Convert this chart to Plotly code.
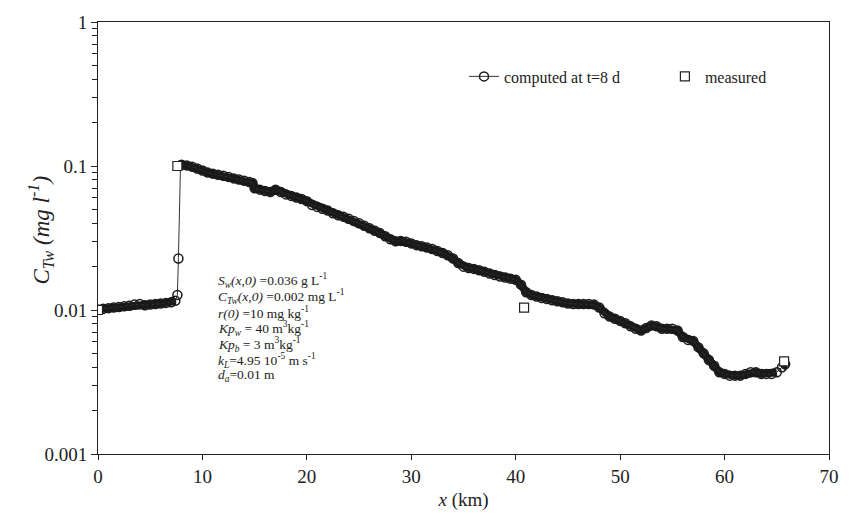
import plotly.graph_objects as go

# computed concentration profile at t = 8 d
x_comp = [0.0, 0.5, 1.0, 1.5, 2.0, 2.5, 3.0, 3.5, 4.0, 4.5, 5.0, 5.5, 6.0, 6.5, 7.0, 7.4,
          7.6, 7.7, 7.9,
          8.0, 8.5, 9.0, 9.5, 10.0, 10.5, 11.0, 11.5, 12.0, 12.5, 13.0, 13.5, 14.0, 14.5, 14.8,
          15.0, 15.5, 16.0, 16.5, 17.0, 17.5, 18.0, 18.5, 19.0, 19.5, 20.0, 20.5, 21.0, 21.5,
          22.0, 22.5, 23.0, 23.5, 24.0, 24.5, 25.0, 25.5, 26.0, 26.5, 27.0, 27.5, 28.0, 28.5,
          29.0, 29.5, 30.0, 30.5, 31.0, 31.5, 32.0, 32.5, 33.0, 33.5, 34.0, 34.5, 35.0, 35.5,
          36.0, 36.5, 37.0, 37.5, 38.0, 38.5, 39.0, 39.5, 40.0, 40.5, 41.0, 41.5, 42.0, 42.5,
          43.0, 43.5, 44.0, 44.5, 45.0, 45.5, 46.0, 46.5, 47.0, 47.5, 48.0, 48.5, 49.0, 49.5,
          50.0, 50.5, 51.0, 51.5, 52.0, 52.5, 53.0, 53.5, 54.0, 54.5, 55.0, 55.5, 56.0, 56.5,
          57.0, 57.5, 58.0, 58.5, 59.0, 59.5, 60.0, 60.5, 61.0, 61.5, 62.0, 62.5, 63.0, 63.5,
          64.0, 64.5, 65.0, 65.5, 65.8]
c_comp = [0.0101, 0.0102, 0.0103, 0.0104, 0.0105, 0.0106, 0.0107, 0.0109, 0.0110, 0.0108,
          0.0109, 0.0110, 0.0111, 0.0112, 0.0113, 0.0116,
          0.0127, 0.0228, 0.101,
          0.102, 0.101, 0.099, 0.096, 0.093, 0.090, 0.0885, 0.087, 0.0855, 0.084, 0.082, 0.0805,
          0.079, 0.0775, 0.076,
          0.070, 0.0685, 0.067, 0.066, 0.0685, 0.066, 0.0635, 0.062, 0.0605, 0.059, 0.057, 0.0535,
          0.052, 0.0505, 0.0490, 0.047, 0.0455, 0.0445, 0.043, 0.0415, 0.040, 0.0385, 0.037,
          0.0355, 0.0342, 0.0325, 0.031, 0.030, 0.0302, 0.0298, 0.029, 0.0282, 0.0277, 0.0272,
          0.0265, 0.0257, 0.0249, 0.0240, 0.0228, 0.0212, 0.0200, 0.0196, 0.0193, 0.0189,
          0.0184, 0.0179, 0.0175, 0.0171, 0.0168, 0.0165, 0.0162, 0.0150, 0.0133, 0.0127,
          0.0124, 0.0121, 0.0119, 0.0117, 0.0115, 0.0113, 0.0111, 0.0110, 0.0110, 0.0110,
          0.0110, 0.0109, 0.0104, 0.0095, 0.0090, 0.0087, 0.0084, 0.0081, 0.0077, 0.0074,
          0.0072, 0.0075, 0.0078, 0.0077, 0.0074, 0.0074, 0.0074, 0.0072, 0.0065, 0.0062,
          0.0061, 0.0055, 0.0050, 0.0045, 0.0041, 0.0037, 0.0036, 0.0035, 0.0035, 0.0035,
          0.0036, 0.0037, 0.0037, 0.0036, 0.0036, 0.0036, 0.0037, 0.0040, 0.0042]

# measured values
x_meas = [0.0, 7.6, 40.8, 65.7]
c_meas = [0.0100, 0.100, 0.0104, 0.0044]

y_tickvals = [0.001, 0.01, 0.1, 1]
y_ticktext = ["0.001", "0.01", "0.1", "1"]
x_tickvals = [0, 10, 20, 30, 40, 50, 60, 70]

param_lines = [
    "<i>S</i><sub><i>w</i></sub><i>(x,0)</i> =0.036 g L<sup>-1</sup>",
    "<i>C</i><sub><i>Tw</i></sub><i>(x,0)</i> =0.002 mg L<sup>-1</sup>",
    "<i>r(0)</i> =10 mg kg<sup>-1</sup>",
    "<i>Kp</i><sub><i>w</i></sub> = 40 m<sup>3</sup>kg<sup>-1</sup>",
    "<i>Kp</i><sub><i>b</i></sub> = 3 m<sup>3</sup>kg<sup>-1</sup>",
    "<i>k</i><sub><i>L</i></sub>=4.95 10<sup>-5</sup> m s<sup>-1</sup>",
    "<i>d</i><sub><i>a</i></sub>=0.01 m",
]

FONT = "Liberation Serif, Times New Roman, serif"
INK = "#1a1a1a"
TXT = "#222222"

# split the computed profile where it jumps (thin segment stays thin)
band_x, band_y = [], []
for i in range(len(x_comp)):
    if i > 0 and (c_comp[i] / c_comp[i - 1] > 1.08):
        band_x.append(None)
        band_y.append(None)
    band_x.append(x_comp[i])
    band_y.append(c_comp[i])

fig = go.Figure()
fig.add_trace(go.Scatter(x=band_x, y=band_y, mode="lines", showlegend=False,
                         hoverinfo="skip", connectgaps=False,
                         line=dict(color=INK, width=8)))
fig.add_trace(go.Scatter(x=x_comp, y=c_comp, mode="lines+markers",
                         name="computed at t=8 d", legend="legend",
                         line=dict(color="#333333", width=1),
                         marker=dict(symbol="circle-open", size=9, color=INK,
                                     line=dict(width=1.5, color=INK))))
fig.add_trace(go.Scatter(x=x_meas, y=c_meas, mode="markers", name="measured",
                         legend="legend2",
                         marker=dict(symbol="square", size=9, color="white",
                                     line=dict(width=1.2, color=TXT))))

L, R, pt, pb = 98, 833, 17, 461
def px(xp):
    return (xp - L) / (R - L)
def py(yp):
    return (pb - yp) / (pb - pt)

for k, txt in enumerate(param_lines):
    ypx = 283 + k * 16.3
    fig.add_annotation(xref="paper", yref="paper", x=px(217), y=py(ypx),
                       xanchor="left", yanchor="middle",
                       text=txt, showarrow=False,
                       font=dict(family=FONT, size=13.5, color=TXT))

# y-axis title
fig.add_annotation(xref="paper", yref="paper", x=px(40), y=py(231),
                   xanchor="center", yanchor="middle", textangle=-90,
                   text="<i>C</i><sub><i>Tw</i></sub><i> (mg l</i><sup><i>-1</i></sup><i>)</i>",
                   showarrow=False, font=dict(family=FONT, size=23, color=TXT))

leg_common = dict(orientation="h", xanchor="left", yanchor="middle",
                  bgcolor="rgba(0,0,0,0)", itemwidth=30,
                  font=dict(family=FONT, size=16, color=TXT))

fig.update_layout(
    width=851, height=518,
    margin=dict(l=L, r=851 - R, t=pt, b=518 - pb),
    paper_bgcolor="white", plot_bgcolor="white",
    font=dict(family=FONT, color=TXT),
    showlegend=True,
    legend=dict(x=px(466), y=py(73), **leg_common),
    legend2=dict(x=px(668), y=py(73), **leg_common),
    xaxis=dict(range=[0, 70], tickvals=x_tickvals, ticks="outside", ticklen=5,
               tickcolor=TXT, showline=True, linecolor=TXT, linewidth=1,
               mirror=True, showgrid=False, zeroline=False,
               tickfont=dict(family=FONT, size=19, color=TXT),
               title=dict(text="<i>x</i> (km)", standoff=6,
                          font=dict(family=FONT, size=19, color=TXT))),
    yaxis=dict(type="log", range=[-3, 0], tickvals=y_tickvals, ticktext=y_ticktext,
               ticks="outside", ticklen=6, tickcolor=TXT,
               showline=True, linecolor=TXT, linewidth=1, mirror=True,
               showgrid=False, zeroline=False,
               minor=dict(ticks="outside", ticklen=5, tickcolor=TXT,
                          tickvals=[m * 10 ** e for e in (-3, -2, -1) for m in range(2, 10)],
                          showgrid=False),
               tickfont=dict(family=FONT, size=19, color=TXT)),
)

fig.write_html("out.html")
